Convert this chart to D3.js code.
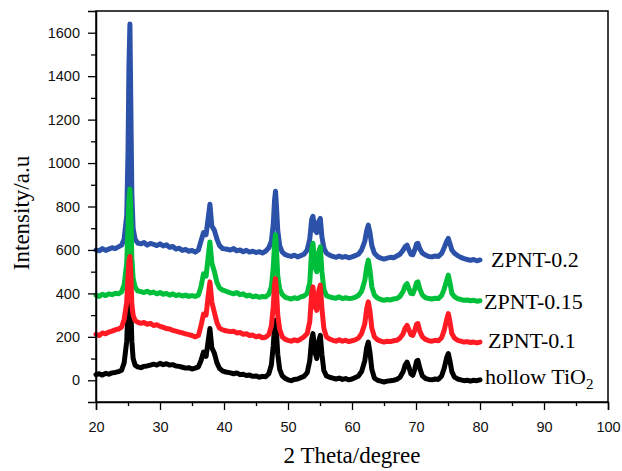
<!DOCTYPE html>
<html>
<head>
<meta charset="utf-8">
<script src="https://cdn.jsdelivr.net/npm/d3@7"></script>
<style>
  body { margin: 0; background: #fff; }
  svg { display: block; }
</style>
</head>
<body>
<svg id="chart" width="622" height="471"></svg>
<script>
// Diffraction angle grid (2θ, degrees), shared by all patterns
const twoTheta = [
  20, 20.5, 21, 21.5, 22, 22.5, 23, 23.5, 24,
  24.4, 24.8, 25.0, 25.15, 25.3, 25.45, 25.6, 25.8, 26.1,
  26.5, 27, 27.5, 28, 28.5, 29, 29.5, 30, 30.5, 31, 31.5, 32, 32.5, 33, 33.5, 34, 34.5, 35, 35.5, 36,
  36.4, 36.8, 37.2, 37.5, 37.8, 38.1, 38.5, 38.9, 39.3, 39.8,
  40.3, 41, 41.5, 42, 42.5, 43, 43.5, 44, 44.5, 45, 45.5, 46, 46.5, 47,
  47.4, 47.7, 47.9, 48.05, 48.2, 48.4, 48.7, 49.1, 49.6,
  50, 50.5, 51, 51.5, 52, 52.5, 53,
  53.4, 53.7, 53.9, 54.2, 54.5, 54.8, 55.05, 55.3, 55.6, 56,
  56.5, 57, 57.5, 58, 58.5, 59, 59.5, 60, 60.5, 61, 61.5, 62,
  62.3, 62.55, 62.8, 63.1, 63.5, 64,
  64.5, 65, 65.5, 66, 66.5, 67, 67.5, 68,
  68.3, 68.6, 68.9, 69.2, 69.5, 69.8, 70.1, 70.3, 70.6, 71,
  71.5, 72, 72.5, 73, 73.5, 74, 74.4,
  74.8, 75.05, 75.3, 75.6, 76,
  76.5, 77, 77.5, 78, 78.5, 79, 79.5, 80
];

// Intensity (a.u.) of each sample, stacked patterns
const hollowTiO2 = [
  26, 30, 24, 32, 28, 34, 36, 40, 46,
  80, 180, 330, 410, 420, 330, 180, 100, 70,
  62, 58, 64, 66, 70, 74, 70, 78, 72, 76, 70, 72, 66, 64, 60, 56, 58, 52, 56, 62,
  90, 130, 110, 175, 238, 150, 124, 80, 55, 42,
  38, 34, 30, 34, 26, 28, 22, 24, 18, 20, 14, 18, 16, 30,
  70, 160, 250, 276, 220, 120, 50, 20, 8,
  2, -2, 4, 6, 12, 18, 35,
  90, 190, 215, 130, 100, 180, 207, 120, 45, 20,
  14, 10, 6, 10, 4, 8, 2, 6, 12, 20, 40, 90,
  150, 176, 130, 50, 10, 0,
  -4, -8, -4, -2, 0, 4, 14, 40,
  70, 84, 60, 30, 23, 50, 88, 92, 55, 20,
  8, 4, 2, 6, 4, 20, 55,
  105, 123, 90, 40, 15,
  6, 2, -2, 0, -4, 0, -2, 2
];

const zpnt01 = [
  212, 206, 218, 214, 222, 226, 232, 236, 245,
  280, 360, 470, 550, 570, 480, 350, 300, 275,
  268, 262, 266, 258, 262, 252, 256, 248, 244, 238, 236, 230, 226, 222, 218, 214, 210, 206, 200, 206,
  250, 305, 300, 380, 453, 360, 312, 265, 240, 232,
  228, 224, 226, 218, 220, 212, 214, 206, 208, 200, 204, 196, 198, 210,
  250, 340, 440, 468, 410, 300, 235, 200, 188,
  184, 180, 186, 182, 190, 200, 215,
  270, 400, 430, 340, 322, 410, 438, 330, 240, 200,
  190, 184, 180, 186, 180, 184, 178, 182, 186, 194, 215, 260,
  330, 361, 320, 240, 200, 186,
  180, 176, 180, 178, 182, 184, 194, 215,
  240, 253, 232, 210, 207, 230, 258, 261, 225, 200,
  188, 182, 180, 184, 182, 196, 230,
  280, 307, 270, 215, 195,
  184, 180, 176, 178, 174, 176, 172, 176
];

const zpnt015 = [
  392, 386, 396, 390, 398, 394, 400, 398, 407,
  440, 540, 700, 830, 880, 760, 560, 470, 430,
  412, 408, 404, 410, 402, 406, 398, 404, 396, 400, 392, 398, 390, 394, 388, 392, 386, 390, 386, 392,
  430, 490, 480, 560, 637, 540, 500, 450, 425, 415,
  410, 402, 398, 404, 394, 398, 388, 392, 384, 388, 382, 386, 384, 396,
  430, 520, 630, 670, 600, 480, 420, 395, 382,
  378, 374, 380, 376, 384, 388, 400,
  450, 600, 631, 520, 500, 590, 614, 500, 420, 390,
  384, 380, 378, 384, 376, 380, 376, 378, 382, 390, 410, 460,
  520, 553, 510, 430, 392, 378,
  372, 368, 372, 370, 374, 376, 386, 410,
  435, 445, 420, 400, 398, 420, 450, 453, 420, 392,
  380, 376, 374, 378, 376, 390, 420,
  460, 484, 450, 400, 385,
  376, 372, 368, 370, 366, 368, 364, 366
];

const zpnt02 = [
  600, 596, 606, 598, 604, 610, 606, 614, 622,
  650, 760, 1050, 1450, 1640, 1250, 860, 700, 650,
  632, 628, 634, 622, 630, 626, 620, 628, 618, 624, 612, 616, 604, 608, 598, 602, 594, 598, 590, 600,
  640, 680, 670, 740, 810, 710, 690, 650, 620, 606,
  604, 600, 606, 596, 600, 592, 598, 590, 594, 588, 592, 586, 594, 610,
  640, 720, 830, 870, 800, 690, 620, 590, 578,
  574, 570, 576, 568, 574, 580, 600,
  650, 740, 755, 690, 680, 730, 745, 660, 610, 585,
  576, 570, 566, 572, 566, 570, 564, 568, 574, 580, 600, 640,
  690, 714, 680, 620, 585, 570,
  562, 558, 562, 566, 564, 572, 580, 600,
  615, 622, 600, 580, 578, 600, 628, 630, 605, 585,
  576, 570, 568, 572, 570, 584, 610,
  640, 653, 630, 600, 585,
  574, 566, 560, 556, 552, 556, 550, 554
];

const xTicks = [20, 30, 40, 50, 60, 70, 80, 90, 100];
const xMinorTicks = [25, 35, 45, 55, 65, 75, 85, 95];
const yTicks = [0, 200, 400, 600, 800, 1000, 1200, 1400, 1600];
const yMinorTicks = [100, 300, 500, 700, 900, 1100, 1300, 1500];

// Series in drawing order (later ones sit on top)
const series = [
  { name: "hollow TiO", sub: "2", values: hollowTiO2, color: "#000000", dx: 5,  dy: 4 },
  { name: "ZPNT-0.2",   sub: "",  values: zpnt02,     color: "#2b52a8", dx: 11, dy: 7 },
  { name: "ZPNT-0.15",  sub: "",  values: zpnt015,    color: "#00bf3a", dx: 4,  dy: 8 },
  { name: "ZPNT-0.1",   sub: "",  values: zpnt01,     color: "#ff1a24", dx: 8,  dy: 6 }
];

const svg = d3.select("#chart");
const plot = { left: 96, right: 608, top: 11, bottom: 402 };

const x = d3.scaleLinear().domain([20, 100]).range([plot.left, plot.right]);
const y = d3.scaleLinear().domain([-100, 1700]).range([plot.bottom, plot.top]);

const tickFont = "'Liberation Sans', Arial, sans-serif";
const titleFont = "'Liberation Serif', 'Times New Roman', serif";

// Patterns
const line = d3.line()
  .x((d, i) => x(twoTheta[i]))
  .y(d => y(d));

const g = svg.append("g");
series.forEach(s => {
  g.append("path")
    .attr("d", line(s.values))
    .attr("fill", "none")
    .attr("stroke", s.color)
    .attr("stroke-width", 5)
    .attr("stroke-linejoin", "round")
    .attr("stroke-linecap", "round");
});

// Frame
svg.append("rect")
  .attr("x", plot.left).attr("y", plot.top)
  .attr("width", plot.right - plot.left).attr("height", plot.bottom - plot.top)
  .attr("fill", "none").attr("stroke", "#000").attr("stroke-width", 1.5);

// X axis
const xAxis = svg.append("g")
  .attr("transform", `translate(0,${plot.bottom})`)
  .call(d3.axisBottom(x).tickValues(xTicks).tickSize(8).tickPadding(12).tickFormat(d3.format("d")));
svg.append("g")
  .attr("transform", `translate(0,${plot.bottom})`)
  .call(d3.axisBottom(x).tickValues(xMinorTicks).tickSize(4).tickFormat(""))
  .call(a => a.select(".domain").remove());

// Y axis
const yAxis = svg.append("g")
  .attr("transform", `translate(${plot.left},0)`)
  .call(d3.axisLeft(y).tickValues(yTicks).tickSize(8).tickPadding(8).tickFormat(d3.format("d")));
svg.append("g")
  .attr("transform", `translate(${plot.left},0)`)
  .call(d3.axisLeft(y).tickValues(yMinorTicks).tickSize(5).tickFormat(""))
  .call(a => a.select(".domain").remove());

svg.selectAll(".domain").attr("stroke-width", 1.5);
svg.selectAll(".tick line").attr("stroke-width", 1.3);
svg.selectAll(".tick text")
  .attr("font-family", tickFont)
  .attr("font-size", 14.5)
  .attr("fill", "#111");

// Axis titles
svg.append("text")
  .attr("x", (plot.left + plot.right) / 2)
  .attr("y", 463)
  .attr("text-anchor", "middle")
  .attr("font-family", titleFont)
  .attr("font-size", 23)
  .text("2 Theta/degree");

svg.append("text")
  .attr("transform", `translate(29,213) rotate(-90)`)
  .attr("text-anchor", "middle")
  .attr("font-family", titleFont)
  .attr("font-size", 23)
  .text("Intensity/a.u");

// Series labels at the end of each pattern
series.forEach(s => {
  const last = s.values.length - 1;
  const t = svg.append("text")
    .attr("x", x(twoTheta[last]) + s.dx)
    .attr("y", y(s.values[last]) + s.dy)
    .attr("font-family", titleFont)
    .attr("font-size", 22)
    .attr("fill", "#000")
    .text(s.name);
  if (s.sub) {
    t.append("tspan")
      .attr("font-size", 15)
      .attr("dy", 5)
      .text(s.sub);
  }
});
</script>
</body>
</html>
